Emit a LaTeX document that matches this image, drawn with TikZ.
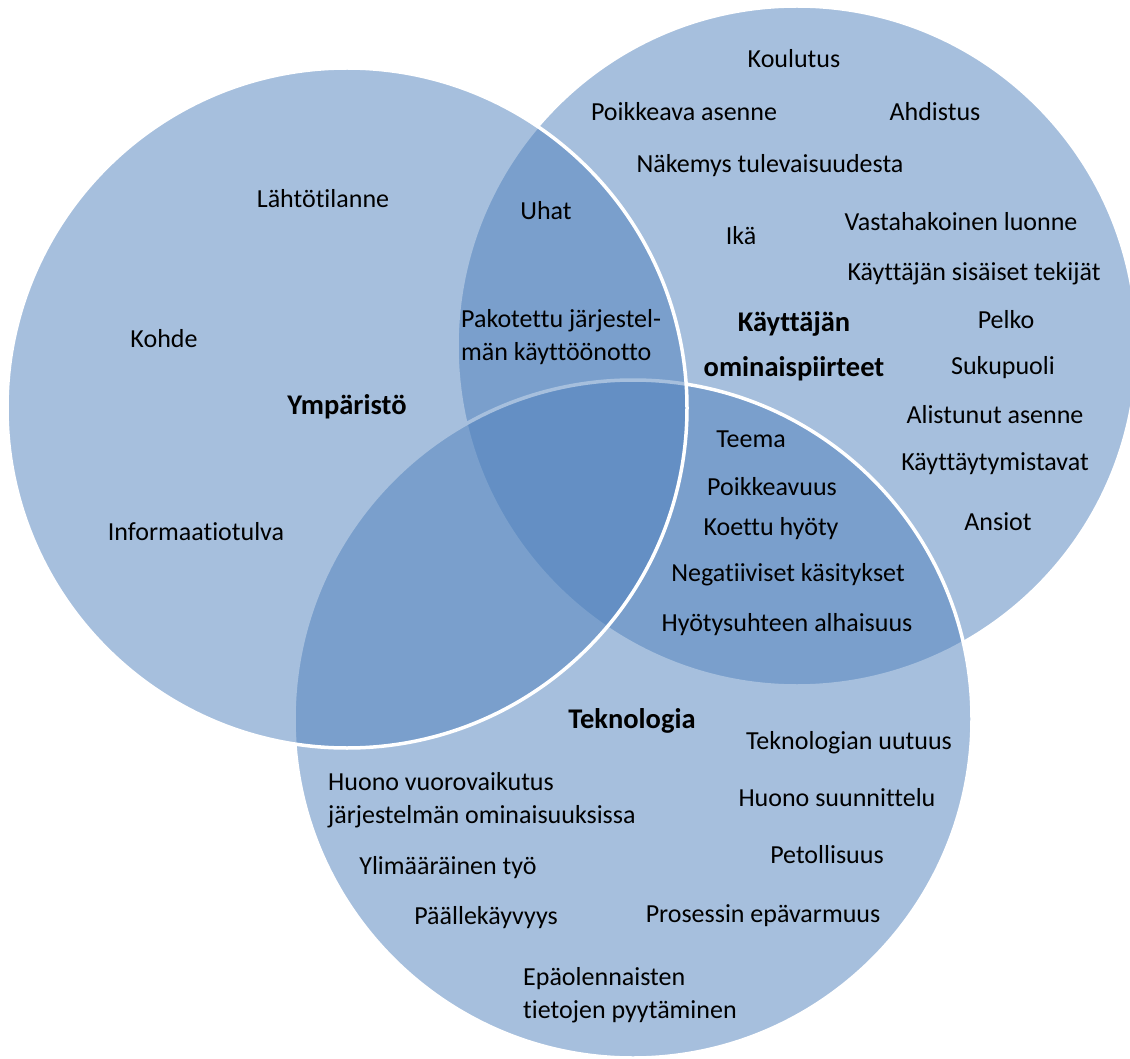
\documentclass[tikz,border=0pt]{standalone}
\usepackage{fontspec}
\setmainfont{Carlito}[Ligatures=NoCommon]
\definecolor{vennblue}{HTML}{4F81BD}
\begin{document}
\begin{tikzpicture}[x=1pt,y=-1pt,
  venn/.style={fill=vennblue, fill opacity=0.5, draw=white, line width=3.5pt},
  lbl/.style={font=\fontsize{26}{32}\selectfont, text=black, inner sep=0pt, anchor=base},
  hd/.style={lbl, font=\fontsize{28.5}{44}\selectfont\bfseries},
  multi/.style={lbl, align=left, anchor=base west, font=\fontsize{26}{32.5}\selectfont}]
\useasboundingbox (0,0) rectangle (1130,1059);
\fill[white] (0,0) rectangle (1130,1059);
\begin{scope}
\clip (0,0) rectangle (1130,1059);
\draw[venn] (797,346) circle[radius=340];
\draw[venn] (633,719) circle[radius=339];
\draw[venn] (347,408) circle[radius=340];
\end{scope}
% user characteristics
\node[lbl] (kou) at (794,68) {Koulutus};
\node[lbl] (poi) at (684,121) {Poikkeava asenne};
\node[lbl] (ahd) at (935,121) {Ahdistus};
\node[lbl] (nak) at (770,173) {Näkemys tulevaisuudesta};
\node[lbl] (ika) at (741,245) {Ikä};
\node[lbl] (vas) at (961,231) {Vastahakoinen luonne};
\node[lbl] (sis) at (974,281) {Käyttäjän sisäiset tekijät};
\node[hd, align=center] (kay) at (794,376) {Käyttäjän\\ominaispiirteet};
\node[lbl] (pel) at (1006,329) {Pelko};
\node[lbl] (suk) at (1003,374) {Sukupuoli};
\node[lbl] (ali) at (995,423) {Alistunut asenne};
\node[lbl] (kt) at (995,470) {Käyttäytymistavat};
\node[lbl] (ans) at (998,530) {Ansiot};
% user & technology
\node[lbl] (tee) at (751,447) {Teema};
\node[lbl] (poik) at (772,495) {Poikkeavuus};
\node[lbl] (koe) at (771,535) {Koettu hyöty};
\node[lbl] (neg) at (788,581) {Negatiiviset käsitykset};
\node[lbl] (hyo) at (787,631) {Hyötysuhteen alhaisuus};
% environment & user
\node[lbl] (uha) at (546,220) {Uhat};
\node[multi] (pak) at (461,360) {Pakotettu järjestel-\\män käyttöönotto};
% environment
\node[lbl] (lah) at (323,208) {Lähtötilanne};
\node[lbl] (koh) at (164,348) {Kohde};
\node[hd] (ymp) at (347,414) {Ympäristö};
\node[lbl] (inf) at (196,540) {Informaatiotulva};
% technology
\node[hd] (tek) at (632,728) {Teknologia};
\node[multi] (huo) at (328,823) {Huono vuorovaikutus\\järjestelmän ominaisuuksissa};
\node[lbl] (yli) at (448,874) {Ylimääräinen työ};
\node[lbl] (paa) at (486,924) {Päällekäyvyys};
\node[multi] (epa) at (523,1018) {Epäolennaisten\\tietojen pyytäminen};
\node[lbl] (tu) at (849,749) {Teknologian uutuus};
\node[lbl] (hs) at (837,806) {Huono suunnittelu};
\node[lbl] (pet) at (827,863) {Petollisuus};
\node[lbl] (pro) at (763,922) {Prosessin epävarmuus};
\end{tikzpicture}
\end{document}
